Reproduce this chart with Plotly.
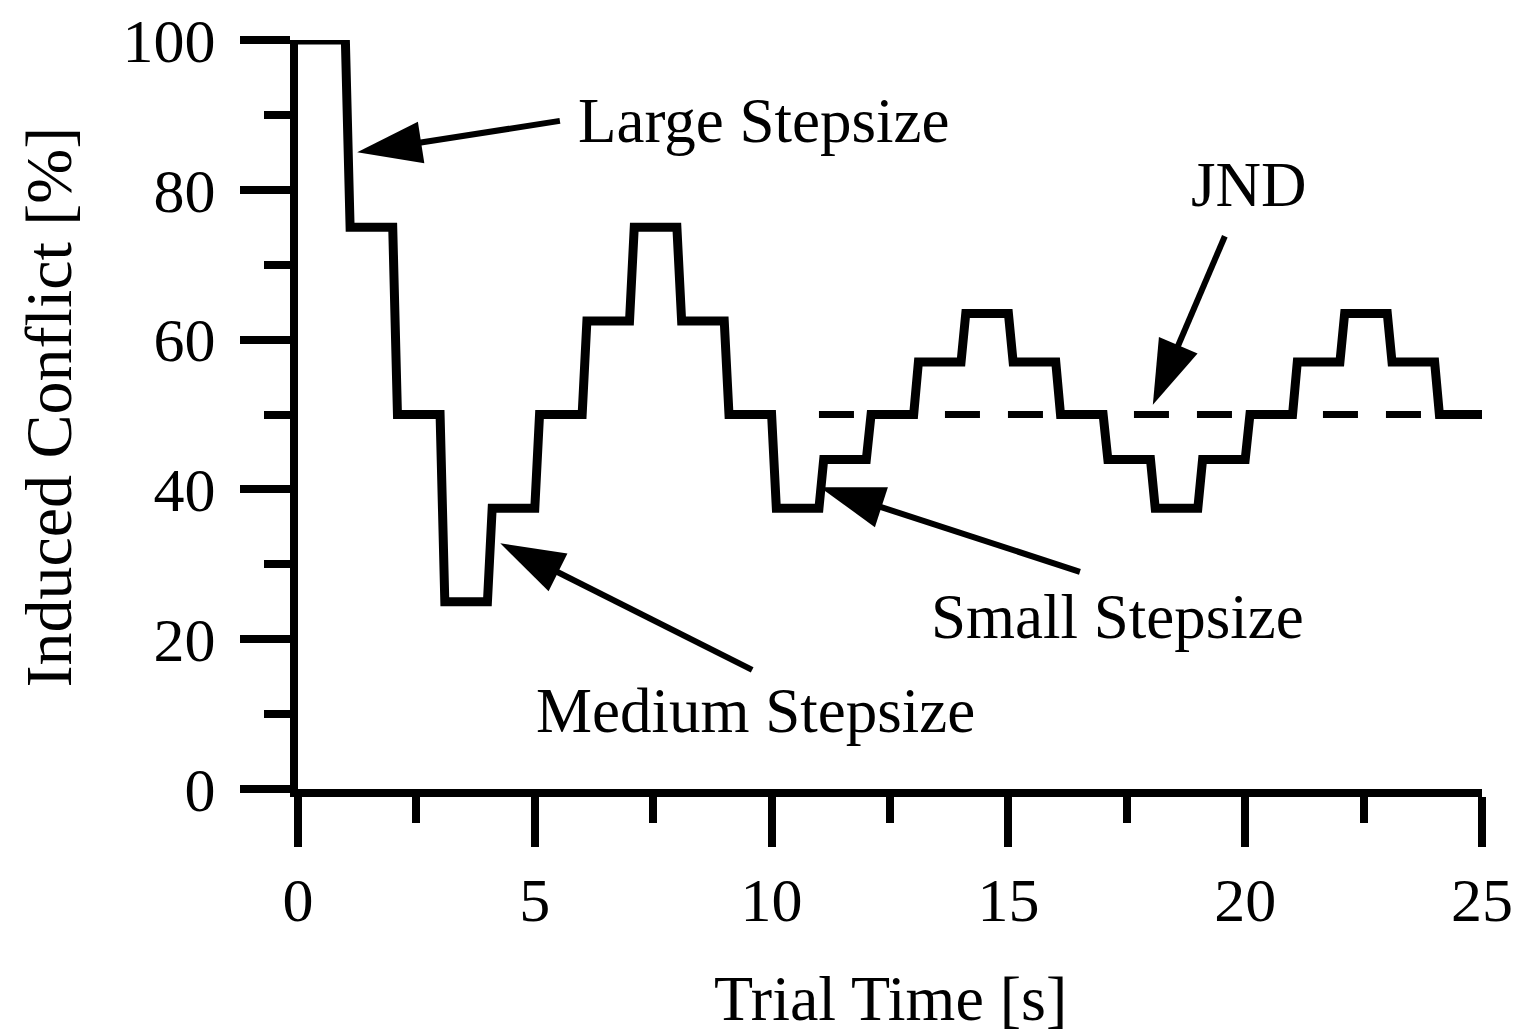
import plotly.graph_objects as go

# ---- data ----
step_times = [0, 1, 2, 3, 4, 5, 6, 7, 8, 9, 10, 11, 12, 13, 14, 15, 16, 17, 18, 19, 20, 21, 22, 23, 24, 25]
step_levels = [100, 75, 50, 25, 37.5, 50, 62.5, 75, 62.5, 50, 37.5, 44, 50, 57, 63.5, 57, 50, 44, 37.5, 44, 50, 57, 63.5, 57, 50]
jnd_x = [11, 25]
jnd_y = [50, 50]

x_tick_vals = [0, 5, 10, 15, 20, 25]
y_tick_vals = [0, 20, 40, 60, 80, 100]

x_title = "Trial Time [s]"
y_title = "Induced Conflict [%]"

label_texts = ["Large Stepsize", "JND", "Medium Stepsize", "Small Stepsize"]
label_x = [9.82, 20.08, 9.67, 17.31]
label_y = [89.2, 80.6, 10.4, 23.0]
arrow_tail_x = [5.53, 19.57, 9.59, 16.51]
arrow_tail_y = [89.2, 73.8, 15.9, 29.0]
arrow_tip_x = [1.25, 18.05, 4.27, 11.02]
arrow_tip_y = [85.0, 51.3, 32.8, 40.3]

RAMP = 0.1  # duration of each transition edge [s]

# build the step polyline (each level held from ramp end to next change)
xs, ys = [], []
for i, lvl in enumerate(step_levels):
    start = step_times[i] + (RAMP if i > 0 else 0)
    end = step_times[i + 1]
    xs += [start, end]
    ys += [lvl, lvl]

FONT = "Liberation Serif, Times New Roman, serif"

fig = go.Figure()

fig.add_trace(go.Scatter(x=jnd_x, y=jnd_y, mode="lines",
                         line=dict(color="black", width=7, dash="35px,28px"),
                         cliponaxis=False, showlegend=False))
fig.add_trace(go.Scatter(x=xs, y=ys, mode="lines",
                         line=dict(color="black", width=9),
                         cliponaxis=False, showlegend=False))

for tx, ty, hx, hy in zip(arrow_tail_x, arrow_tail_y, arrow_tip_x, arrow_tip_y):
    fig.add_trace(go.Scatter(
        x=[tx, hx], y=[ty, hy], mode="lines+markers",
        line=dict(color="black", width=6),
        marker=dict(symbol="arrow", size=[0, 68], color="black", opacity=1,
                    angleref="previous", line=dict(width=0)),
        cliponaxis=False, showlegend=False))

for t, lx, ly in zip(label_texts, label_x, label_y):
    fig.add_annotation(x=lx, y=ly, text=t, showarrow=False,
                       font=dict(family=FONT, size=63, color="black"),
                       xanchor="center", yanchor="middle")

# axis titles
fig.add_annotation(xref="paper", yref="paper", x=0.5, y=0, yshift=-209,
                   text=x_title, showarrow=False,
                   font=dict(family=FONT, size=64, color="black"),
                   xanchor="center", yanchor="middle")
fig.add_annotation(xref="paper", yref="paper", x=0, y=0.5, xshift=-250, yshift=7,
                   text=y_title, showarrow=False, textangle=-90,
                   font=dict(family=FONT, size=66, color="black"),
                   xanchor="center", yanchor="middle")

axis_common = dict(
    showline=True, linecolor="black", linewidth=8,
    ticks="outside", ticklen=50, tickwidth=8, tickcolor="black",
    showgrid=False, zeroline=False, automargin=False,
    tickfont=dict(family=FONT, size=62, color="black"),
)

fig.update_xaxes(range=[0, 25], tickvals=x_tick_vals,
                 minor=dict(dtick=2.5, ticks="outside", ticklen=26, tickwidth=8, tickcolor="black", showgrid=False),
                 ticklabelstandoff=0,
                 **axis_common)
fig.update_yaxes(range=[0, 100], tickvals=y_tick_vals,
                 minor=dict(dtick=10, ticks="outside", ticklen=26, tickwidth=8, tickcolor="black", showgrid=False),
                 ticklabelstandoff=12,
                 **axis_common)

fig.update_layout(
    width=1519, height=1035,
    margin=dict(l=298, r=37, t=40, b=246),
    plot_bgcolor="white", paper_bgcolor="white",
    showlegend=False,
)

fig.write_html("out.html")
